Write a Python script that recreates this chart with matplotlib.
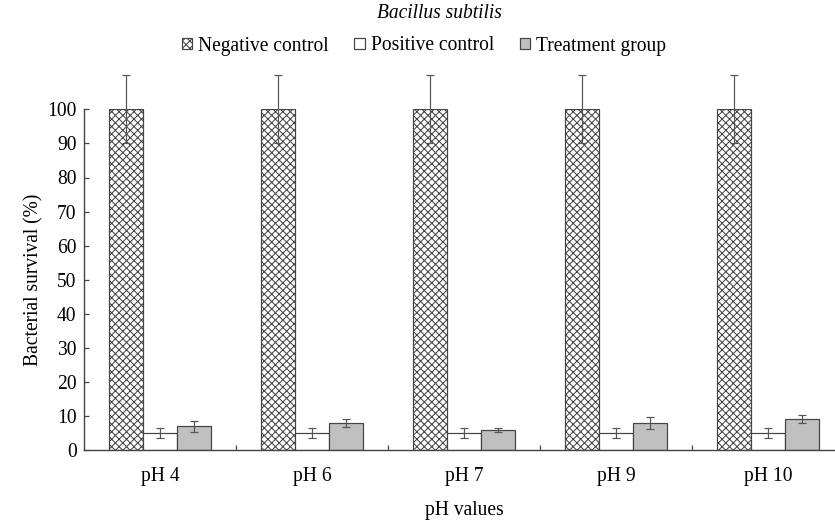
import matplotlib.pyplot as plt
import numpy as np

plt.rcParams['font.family'] = ['Liberation Serif', 'DejaVu Serif']
plt.rcParams['hatch.linewidth'] = 1.1
plt.rcParams['hatch.color'] = '#222222'

DPI = 67

groups = ['pH 4', 'pH 6', 'pH 7', 'pH 9', 'pH 10']
series_names = ['Negative control', 'Positive control', 'Treatment group']

negative = [100, 100, 100, 100, 100]
negative_err = [10, 10, 10, 10, 10]
positive = [5, 5, 5, 5, 5]
positive_err = [1.5, 1.5, 1.5, 1.5, 1.5]
treatment = [7, 8, 6, 8, 9.2]
treatment_err = [1.5, 1.2, 0.5, 1.8, 1.2]

yticks = list(range(0, 101, 10))

fig = plt.figure(figsize=(835 / DPI, 523 / DPI), dpi=DPI)
ax = fig.add_axes([84 / 835, 72.7 / 523, 760 / 835, 341 / 523])

x = np.arange(len(groups))
w = 0.224
edge = '#444444'
errkw = dict(ecolor='#555555', elinewidth=1.3, capsize=4, capthick=1.3)

b1 = ax.bar(x - w, negative, w, color='white', edgecolor=edge, hatch='xxx',
            linewidth=1.3, label=series_names[0])
b2 = ax.bar(x, positive, w, color='white', edgecolor=edge, linewidth=1.3,
            label=series_names[1])
b3 = ax.bar(x + w, treatment, w, color='#c0c0c0', edgecolor=edge,
            linewidth=1.3, label=series_names[2])

# error bars may run above the 100 line, so no clipping
for xs, vals, errs in [(x - w, negative, negative_err), (x, positive, positive_err),
                       (x + w, treatment, treatment_err)]:
    eb = ax.errorbar(xs, vals, yerr=errs, fmt='none', **errkw)
    for art in eb.lines[1] + eb.lines[2]:
        art.set_clip_on(False)

ax.set_xlim(-0.5, 4.5)
ax.set_ylim(0, 100)
ax.set_yticks(yticks)
ax.set_xticks(x)
ax.set_xticklabels(groups)
ax.set_xticks(x[:-1] + 0.5, minor=True)
ax.tick_params(axis='x', which='major', length=0, pad=18, labelsize=21)
ax.tick_params(axis='x', which='minor', length=5, direction='in', width=1.3, color=edge)
ax.tick_params(axis='y', length=5, direction='in', width=1.3, color=edge,
               labelsize=21, pad=8)

for s in ['top', 'right']:
    ax.spines[s].set_visible(False)
for s in ['left', 'bottom']:
    ax.spines[s].set_color(edge)
    ax.spines[s].set_linewidth(1.5)

ax.set_xlabel('pH values', fontsize=21, labelpad=16)
ax.set_ylabel('Bacterial survival (%)', fontsize=21, labelpad=4)

fig.text(439 / 835, 1 - 14 / 523, 'Bacillus subtilis', style='italic',
         fontsize=21, ha='center', va='center')
fig.legend(handles=[b1, b2, b3], loc='center', bbox_to_anchor=(424 / 835, 1 - 46 / 523),
           ncol=3, frameon=False, fontsize=21, handlelength=0.55, handleheight=0.55,
           handletextpad=0.3, columnspacing=1.3, borderpad=0)

fig.savefig('out.png', dpi=DPI)
